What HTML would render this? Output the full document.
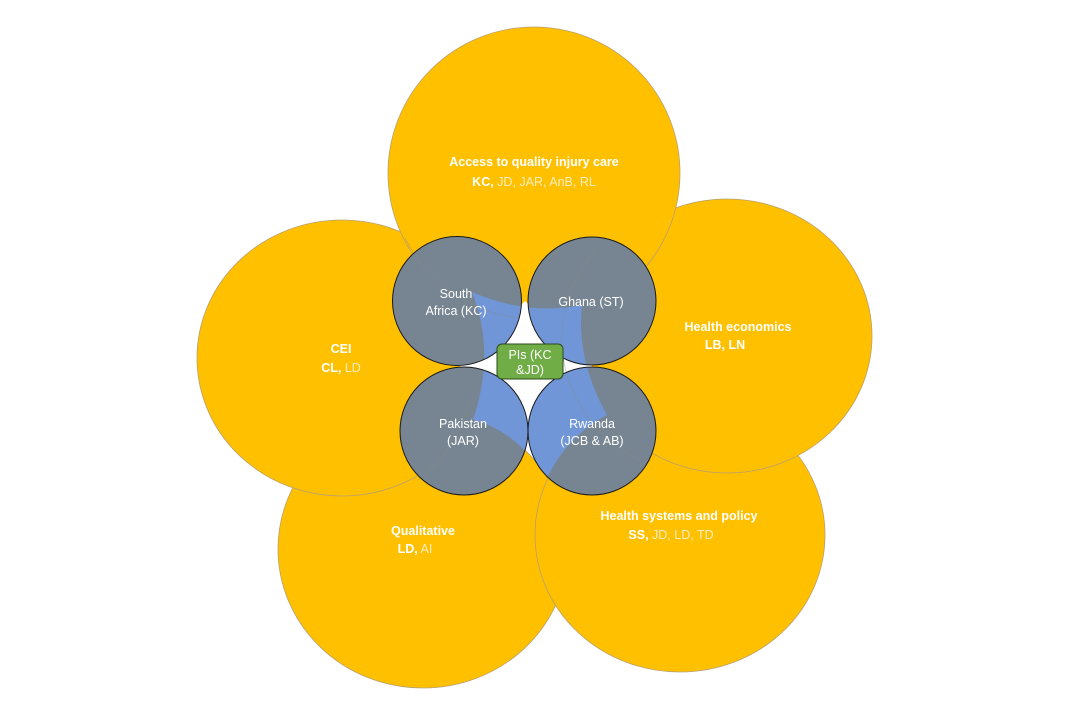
<!DOCTYPE html>
<html><head><meta charset="utf-8"><style>
html,body{margin:0;padding:0;background:#fff;}
svg{display:block;}
text{font-family:"Liberation Sans",sans-serif;font-size:12.5px;fill:#fff;text-anchor:middle;}
.b{font-weight:bold;}
.n{fill:#FBEDC0;font-weight:normal;}
</style></head><body>
<svg width="1080" height="720" viewBox="0 0 1080 720">
<defs>
<clipPath id="cc">
<circle cx="457" cy="301" r="64.5"/>
<circle cx="592" cy="301" r="64"/>
<circle cx="464" cy="431" r="64"/>
<circle cx="592" cy="431" r="64"/>
</clipPath>
</defs>
<g fill="#FFC000" stroke="#B8A070" stroke-width="0.8">
<ellipse cx="423" cy="549" rx="145" ry="139"/>
<ellipse cx="680" cy="535" rx="145" ry="137"/>
<ellipse cx="727" cy="336" rx="145" ry="137"/>
<ellipse cx="342" cy="358" rx="145" ry="138"/>
<ellipse cx="534" cy="173" rx="146" ry="146"/>
</g>
<polygon points="525,301 592,366 528,431 460,366" fill="#fff"/>
<g fill="#778592">
<circle cx="457" cy="301" r="64.5"/>
<circle cx="592" cy="301" r="64"/>
<circle cx="464" cy="431" r="64"/>
<circle cx="592" cy="431" r="64"/>
</g>
<path clip-path="url(#cc)" d="M472,292 Q527,316 582,305 Q576,360 607,415 Q568,435 547,478 Q515,430 473,420 Q496,352 472,292 Z" fill="#7096D8"/>
<g fill="none" stroke="#8a8a80" stroke-width="0.6" opacity="0.6">
<path d="M405,238 A146,146 0 0 0 520,318"/>
<path d="M418,480 A145,138 0 0 0 470,400"/>
<path d="M596,250 A145,137 0 0 0 640,460"/>
</g>
<g fill="none" stroke="#1a1a1a" stroke-width="1">
<circle cx="457" cy="301" r="64.5"/>
<circle cx="592" cy="301" r="64"/>
<circle cx="464" cy="431" r="64"/>
<circle cx="592" cy="431" r="64"/>
</g>
<rect x="497" y="344" width="66" height="35" rx="5" fill="#70AD47" stroke="#2d4a1e" stroke-width="1"/>
<text x="530" y="359">PIs (KC</text>
<text x="530" y="374">&amp;JD)</text>
<text x="456" y="298">South</text>
<text x="456" y="315">Africa (KC)</text>
<text x="591" y="306">Ghana (ST)</text>
<text x="463" y="428">Pakistan</text>
<text x="463" y="445">(JAR)</text>
<text x="592" y="428">Rwanda</text>
<text x="592" y="445">(JCB &amp; AB)</text>
<text x="534" y="166" class="b">Access to quality injury care</text>
<text x="534" y="186"><tspan class="b">KC,</tspan><tspan class="n"> JD, JAR, AnB, RL</tspan></text>
<text x="738" y="331" class="b">Health economics</text>
<text x="725" y="349" class="b">LB, LN</text>
<text x="341" y="353" class="b">CEI</text>
<text x="341" y="372"><tspan class="b">CL,</tspan><tspan class="n"> LD</tspan></text>
<text x="423" y="535" class="b">Qualitative</text>
<text x="415" y="553"><tspan class="b">LD,</tspan><tspan class="n"> AI</tspan></text>
<text x="679" y="520" class="b">Health systems and policy</text>
<text x="671" y="539"><tspan class="b">SS,</tspan><tspan class="n"> JD, LD, TD</tspan></text>
</svg>
</body></html>
